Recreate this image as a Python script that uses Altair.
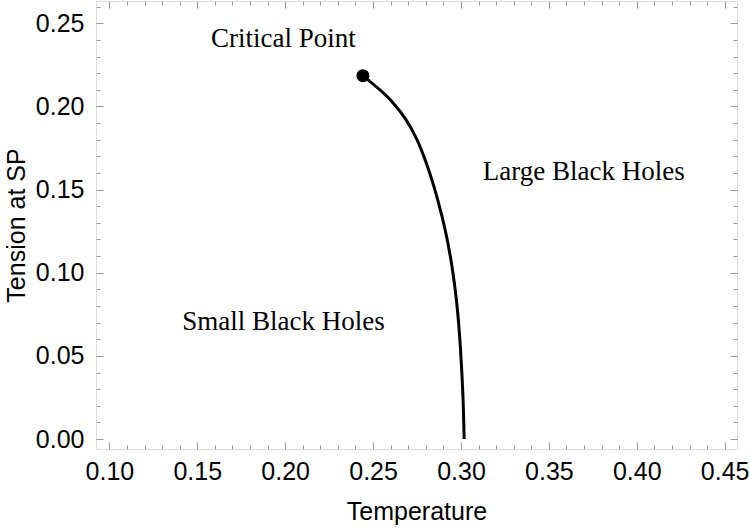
import altair as alt
import pandas as pd

# Coexistence line between small and large black holes
temperature = [0.2442, 0.2561, 0.2599, 0.2685, 0.2751, 0.2810, 0.2868,
               0.2914, 0.2949, 0.2974, 0.2991, 0.3003, 0.3012, 0.3018]
tension = [0.2185, 0.2079, 0.2039, 0.1924, 0.1797, 0.1637, 0.1437,
           0.1239, 0.1036, 0.0836, 0.0637, 0.0435, 0.0235, 0.0]

# Critical point (end of the coexistence line)
critical_T = [0.2442]
critical_S = [0.2185]

# Region annotations
region_names = ["Critical Point", "Large Black Holes", "Small Black Holes"]
region_T = [0.199, 0.3698, 0.199]
region_S = [0.2405, 0.1606, 0.0704]

# Axis ticks
x_major = [0.10, 0.15, 0.20, 0.25, 0.30, 0.35, 0.40, 0.45]
y_major = [0.00, 0.05, 0.10, 0.15, 0.20, 0.25]
x_minor = [round(0.10 + 0.01 * i, 2) for i in range(36)]
y_minor = [round(0.00 + 0.01 * i, 2) for i in range(27)]

X_DOMAIN = [0.0924, 0.457]
Y_DOMAIN = [-0.006, 0.2634]
W, H = 641, 448
FRAME = "#999999"
SANS = "Liberation Sans"
SERIF = "Liberation Serif"

curve_df = pd.DataFrame({"T": temperature, "S": tension})
crit_df = pd.DataFrame({"T": critical_T, "S": critical_S})
label_df = pd.DataFrame({"name": region_names, "T": region_T, "S": region_S})

xs = alt.Scale(domain=X_DOMAIN, nice=False, zero=False)
ys = alt.Scale(domain=Y_DOMAIN, nice=False, zero=False)

curve = alt.Chart(curve_df).mark_line(
    color="black", strokeWidth=3, interpolate="catmull-rom"
).encode(
    x=alt.X("T:Q", scale=xs, axis=alt.Axis(
        orient="bottom", values=x_major, format=".2f", ticks=False, domain=False,
        grid=False, labelFont=SANS, labelFontSize=25, labelColor="black",
        labelPadding=10, title="Temperature", titleFont=SANS, titleFontSize=25,
        titleFontWeight="normal", titleColor="black", titlePadding=15)),
    y=alt.Y("S:Q", scale=ys, axis=alt.Axis(
        orient="left", values=y_major, format=".2f", ticks=False, domain=False,
        grid=False, labelFont=SANS, labelFontSize=25, labelColor="black",
        labelPadding=12, title="Tension at SP", titleFont=SANS, titleFontSize=25,
        titleFontWeight="normal", titleColor="black", titlePadding=6)),
    order="S:Q",
)


def tick_layer(xvals, yvals, size, x_orient, y_orient, x_off, y_off):
    """Invisible layer that only carries an inward-pointing set of frame ticks."""
    return alt.Chart(curve_df).mark_point(opacity=0).encode(
        x=alt.X("T:Q", scale=xs, axis=alt.Axis(
            orient=x_orient, offset=x_off, values=xvals, labels=False,
            domain=False, grid=False, tickSize=size, tickColor=FRAME,
            tickWidth=1, title=None)),
        y=alt.Y("S:Q", scale=ys, axis=alt.Axis(
            orient=y_orient, offset=y_off, values=yvals, labels=False,
            domain=False, grid=False, tickSize=size, tickColor=FRAME,
            tickWidth=1, title=None)),
    )


# bottom/left frame ticks (axes flipped and shifted across the plot so they point inward)
ticks_bl_major = tick_layer(x_major, y_major, 7, "top", "right", -H, -W)
ticks_bl_minor = tick_layer(x_minor, y_minor, 4, "top", "right", -H, -W)
# top/right frame ticks
ticks_tr_major = tick_layer(x_major, y_major, 7, "bottom", "left", -H, -W)
ticks_tr_minor = tick_layer(x_minor, y_minor, 4, "bottom", "left", -H, -W)

crit = alt.Chart(crit_df).mark_point(
    shape="circle", filled=True, color="black", size=170, opacity=1
).encode(
    x=alt.X("T:Q", scale=xs, axis=None),
    y=alt.Y("S:Q", scale=ys, axis=None),
)

labels = alt.Chart(label_df).mark_text(
    font=SERIF, fontSize=27, color="black", align="center", baseline="middle"
).encode(
    x=alt.X("T:Q", scale=xs, axis=None),
    y=alt.Y("S:Q", scale=ys, axis=None),
    text="name:N",
)

chart = alt.layer(
    curve, ticks_bl_major, ticks_bl_minor, ticks_tr_major, ticks_tr_minor,
    crit, labels
).resolve_scale(
    x="shared", y="shared"
).resolve_axis(
    x="independent", y="independent"
).properties(
    width=W, height=H,
    autosize=alt.AutoSizeParams(type="none"),
    padding={"left": 96, "top": 1, "right": 13, "bottom": 81},
).configure_view(
    stroke=FRAME, strokeWidth=1
).configure(
    background="white"
)

chart.save("out.html", embed_options={"renderer": "svg", "actions": False})
